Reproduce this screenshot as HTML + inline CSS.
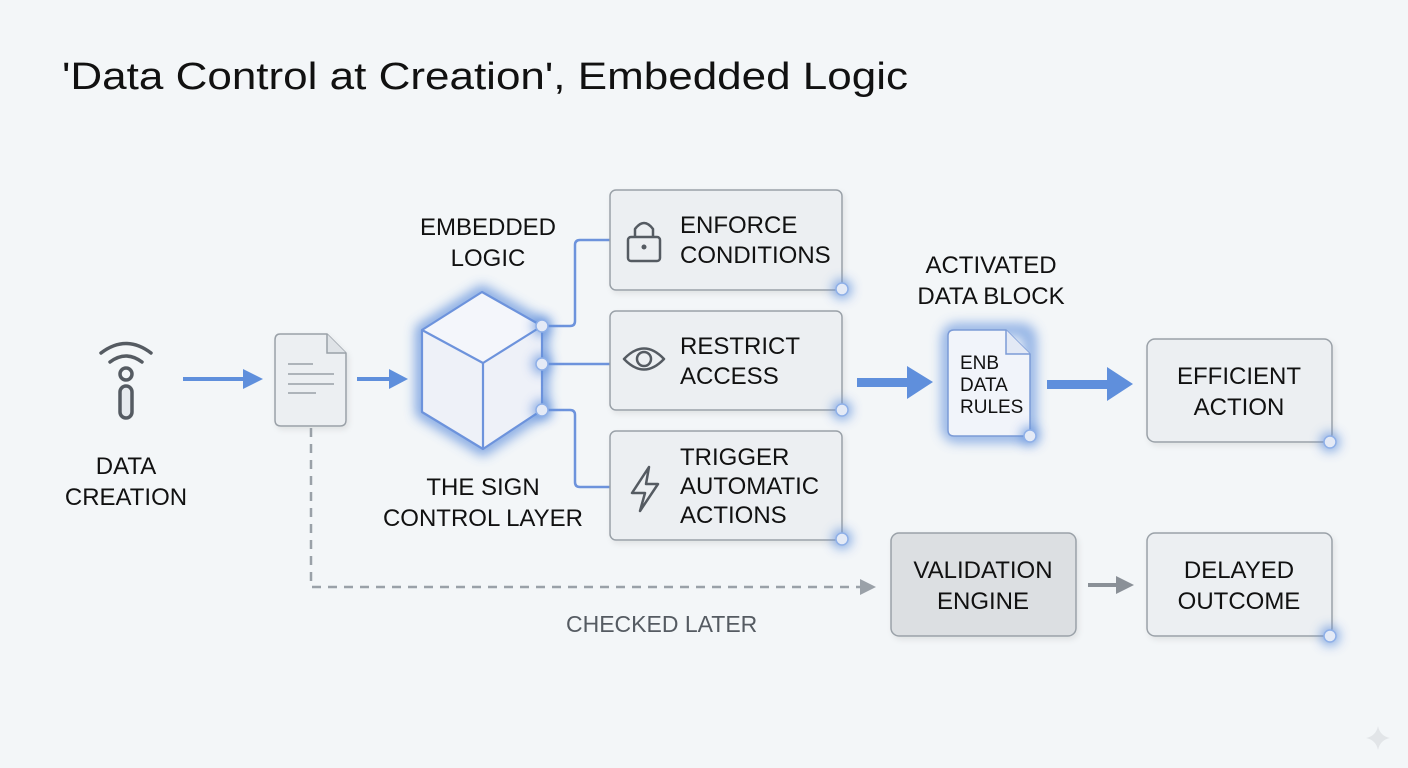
<!DOCTYPE html>
<html><head><meta charset="utf-8"><style>
html,body{margin:0;padding:0;background:#f3f6f8;}
svg{display:block;font-family:"Liberation Sans",sans-serif;}
</style></head><body>
<svg width="1408" height="768" viewBox="0 0 1408 768" xmlns="http://www.w3.org/2000/svg">
<defs>
<filter id="glow" x="-50%" y="-50%" width="200%" height="200%"><feGaussianBlur stdDeviation="6"/></filter>
<filter id="sh" x="-10%" y="-10%" width="130%" height="130%"><feDropShadow dx="2" dy="3" stdDeviation="3" flood-color="#000" flood-opacity="0.08"/></filter>
</defs>
<rect width="1408" height="768" fill="#f3f6f8"/>
<text x="62" y="89" font-size="38" fill="#111" textLength="846" lengthAdjust="spacingAndGlyphs">'Data Control at Creation', Embedded Logic</text>

<!-- antenna -->
<g fill="none" stroke="#555b62" stroke-width="3.5" stroke-linecap="round">
<path d="M101 353 Q126 334 151 353"/>
<path d="M110 362 Q126 350 142 362"/>
<circle cx="126" cy="374" r="6"/>
<rect x="120" y="386" width="12" height="32" rx="6" fill="#e6eaee"/>
</g>
<text x="126" y="474" font-size="24" text-anchor="middle" fill="#111">DATA</text>
<text x="126" y="505" font-size="24" text-anchor="middle" fill="#111">CREATION</text>

<!-- arrows -->
<g fill="#5f8fdc" stroke="none">
<rect x="183" y="377" width="60" height="4"/><polygon points="243,369 263,379 243,389"/>
<rect x="357" y="377" width="34" height="4"/><polygon points="389,369 408,379 389,389"/>
</g>

<!-- doc -->
<g filter="url(#sh)">
<path d="M280 334 H327 L346 353 V420 Q346 426 340 426 H281 Q275 426 275 420 V340 Q275 334 280 334Z" fill="#eceff2" stroke="#9aa1a8" stroke-width="1.5"/>
</g>
<path d="M327 334 V353 H346" fill="#dfe3e7" stroke="#9aa1a8" stroke-width="1.5"/>
<g stroke="#9aa1a8" stroke-width="1.5"><line x1="288" y1="364" x2="313" y2="364"/><line x1="288" y1="374" x2="334" y2="374"/><line x1="288" y1="384" x2="334" y2="384"/><line x1="288" y1="393" x2="316" y2="393"/></g>

<!-- dashed -->
<path d="M311 428 V587 H862" fill="none" stroke="#9aa1a8" stroke-width="2.5" stroke-dasharray="9 7"/>
<polygon points="860,579 876,587 860,595" fill="#9aa1a8"/>
<text x="566" y="632" font-size="23" fill="#555b62">CHECKED LATER</text>

<!-- cube -->
<g filter="url(#glow)" opacity="0.85"><polygon points="482,292 542,326 542,410 483,449 422,412 422,330" fill="none" stroke="#5f8fdc" stroke-width="12"/></g>
<polygon points="482,292 542,326 542,410 483,449 422,412 422,330" fill="#eef1f8"/>
<polygon points="482,292 542,326 483,363 422,330" fill="#f4f6fb"/>
<g fill="none" stroke="#6d93dc" stroke-width="2.2" stroke-linejoin="round">
<polygon points="482,292 542,326 542,410 483,449 422,412 422,330"/>
<polyline points="422,330 483,363 542,326"/><line x1="483" y1="363" x2="483" y2="449"/>
</g>
<text x="488" y="235" font-size="24" text-anchor="middle" fill="#111">EMBEDDED</text>
<text x="488" y="266" font-size="24" text-anchor="middle" fill="#111">LOGIC</text>
<text x="483" y="495" font-size="24" text-anchor="middle" fill="#111">THE SIGN</text>
<text x="483" y="526" font-size="24" text-anchor="middle" fill="#111">CONTROL LAYER</text>

<!-- connectors -->
<g fill="none" stroke="#6d93dc" stroke-width="2.5">
<path d="M542 326 H570 Q575 326 575 321 V245 Q575 240 580 240 H610"/>
<path d="M542 364 H610"/>
<path d="M542 410 H570 Q575 410 575 415 V482 Q575 487 580 487 H610"/>
</g>

<!-- boxes -->
<g filter="url(#sh)" fill="#eceff2" stroke="#9aa1a8" stroke-width="1.5">
<rect x="610" y="190" width="232" height="100" rx="6"/>
<rect x="610" y="311" width="232" height="99" rx="6"/>
<rect x="610" y="431" width="232" height="109" rx="6"/>
<rect x="1147" y="339" width="185" height="103" rx="8"/>
<rect x="1147" y="533" width="185" height="103" rx="8"/>
</g>
<rect x="891" y="533" width="185" height="103" rx="8" fill="#dcdfe2" stroke="#9aa1a8" stroke-width="1.5" filter="url(#sh)"/>
<g font-size="24" fill="#111">
<text x="680" y="233">ENFORCE</text><text x="680" y="263">CONDITIONS</text>
<text x="680" y="354">RESTRICT</text><text x="680" y="384">ACCESS</text>
<text x="680" y="465">TRIGGER</text><text x="680" y="494">AUTOMATIC</text><text x="680" y="523">ACTIONS</text>
</g>
<g font-size="24" fill="#111" text-anchor="middle">
<text x="1239" y="384">EFFICIENT</text><text x="1239" y="415">ACTION</text>
<text x="983" y="578">VALIDATION</text><text x="983" y="609">ENGINE</text>
<text x="1239" y="578">DELAYED</text><text x="1239" y="609">OUTCOME</text>
<text x="991" y="273">ACTIVATED</text><text x="991" y="304">DATA BLOCK</text>
</g>
<!-- icons -->
<g fill="none" stroke="#555b62" stroke-width="2.5" stroke-linejoin="round">
<rect x="628" y="237" width="32" height="24" rx="3"/>
<path d="M635 237 V229 Q644 217 653 229 V237"/>
<path d="M624 359 Q644 338 664 359 Q644 380 624 359Z"/>
<circle cx="644" cy="359" r="7"/>
<path d="M649 467 L632 493 H645 L640 511 L658 484 H646 Z"/>
</g>
<circle cx="644" cy="247" r="2.5" fill="#555b62"/>

<!-- big arrows -->
<g fill="#5f8fdc">
<rect x="857" y="378" width="52" height="9"/><polygon points="907,366 933,382 907,399"/>
<rect x="1047" y="380" width="62" height="9"/><polygon points="1107,367 1133,384 1107,401"/>
</g>
<g fill="#8a9097"><rect x="1088" y="583" width="30" height="4"/><polygon points="1116,576 1134,585 1116,594"/></g>

<!-- data block doc -->
<g filter="url(#glow)" opacity="0.75"><rect x="948" y="330" width="82" height="106" rx="8" fill="none" stroke="#5f8fdc" stroke-width="12"/></g>
<path d="M954 330 H1006 L1030 354 V430 Q1030 436 1024 436 H954 Q948 436 948 430 V336 Q948 330 954 330Z" fill="#f1f4fa" stroke="#7c9bd6" stroke-width="1.5"/>
<path d="M1006 330 V354 H1030" fill="#e3e9f5" stroke="#7c9bd6" stroke-width="1.5"/>
<g font-size="19" fill="#111"><text x="960" y="369">ENB</text><text x="960" y="391">DATA</text><text x="960" y="413">RULES</text></g>

<!-- glow dots -->
<g fill="#5f8fdc" filter="url(#glow)" opacity="0.9">
<circle cx="542" cy="326" r="9"/><circle cx="542" cy="364" r="9"/><circle cx="542" cy="410" r="9"/>
<circle cx="842" cy="289" r="9"/><circle cx="842" cy="410" r="9"/><circle cx="842" cy="539" r="9"/>
<circle cx="1030" cy="436" r="9"/><circle cx="1330" cy="442" r="9"/><circle cx="1330" cy="636" r="9"/>
</g>
<g fill="#e4eaf6" stroke="#8fb0e8" stroke-width="1.5">
<circle cx="542" cy="326" r="6"/><circle cx="542" cy="364" r="6"/><circle cx="542" cy="410" r="6"/>
<circle cx="842" cy="289" r="6"/><circle cx="842" cy="410" r="6"/><circle cx="842" cy="539" r="6"/>
<circle cx="1030" cy="436" r="6"/><circle cx="1330" cy="442" r="6"/><circle cx="1330" cy="636" r="6"/>
</g>
<path d="M1378 726 Q1380 736 1390 738 Q1380 740 1378 750 Q1376 740 1366 738 Q1376 736 1378 726Z" fill="#e2e5e8"/>
</svg>
</body></html>
